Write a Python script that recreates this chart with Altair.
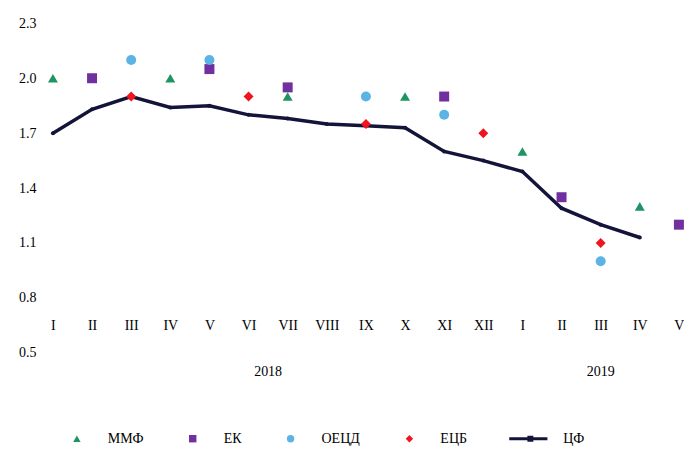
import altair as alt
import pandas as pd

months = ["I", "II", "III", "IV", "V", "VI", "VII", "VIII", "IX", "X", "XI", "XII",
          "I", "II", "III", "IV", "V"]
cf = [1.70, 1.83, 1.90, 1.84, 1.85, 1.80, 1.78, 1.75, 1.74, 1.73, 1.60, 1.55,
      1.49, 1.29, 1.20, 1.13]

mmf_idx = [0, 3, 6, 9, 12, 15]
mmf = [2.0, 2.0, 1.9, 1.9, 1.6, 1.3]
ek_idx = [1, 4, 6, 10, 13, 16]
ek = [2.0, 2.05, 1.95, 1.9, 1.35, 1.2]
oecd_idx = [2, 4, 8, 10, 14]
oecd = [2.1, 2.1, 1.9, 1.8, 1.0]
ecb_idx = [2, 5, 8, 11, 14]
ecb = [1.9, 1.9, 1.75, 1.7, 1.1]

years = ["2018", "2019"]
year_pos = [5.5, 14.0]

names = ["ММФ", "ЕК", "ОЕЦД", "ЕЦБ", "ЦФ"]
colors = ["#1f9463", "#7030a0", "#5bb4e3", "#f0141e", "#14143a"]
line_path = "M-6.2,-0.4H4.1V0.4H-6.2Z M-1.3,-0.8H0.3V0.8H-1.3Z"
shapes = ["triangle-up", "square", "circle", "diamond", line_path]

rows = []
for nm, idx, vals in [("ММФ", mmf_idx, mmf), ("ЕК", ek_idx, ek),
                      ("ОЕЦД", oecd_idx, oecd), ("ЕЦБ", ecb_idx, ecb)]:
    for i, v in zip(idx, vals):
        rows.append({"series": nm, "idx": i, "value": v})
pts = pd.DataFrame(rows)
line_df = pd.DataFrame({"idx": list(range(len(cf))), "value": cf, "series": "ЦФ"})
year_df = pd.DataFrame({"year": years, "idx": year_pos})

FONT = "Liberation Serif"
W, H = 640, 330

label_expr = "[" + ",".join("'%s'" % m for m in months) + "][round(datum.value)]"

xscale = alt.Scale(domain=[-0.204, 16.13], nice=False, zero=False)
yscale = alt.Scale(domain=[0.5, 2.3], nice=False, zero=False)

xaxis = alt.Axis(values=list(range(len(months))), labelExpr=label_expr, title=None,
                 domain=False, ticks=False, grid=False, offset=-56, labelPadding=22,
                 labelFont=FONT, labelFontSize=14, labelColor="#000000", labelFlush=False,
                 labelOverlap=False, labelBound=False)
yaxis = alt.Axis(values=[0.5, 0.8, 1.1, 1.4, 1.7, 2.0, 2.3], format=".1f", title=None,
                 domain=False, ticks=False, grid=False, labelPadding=9,
                 labelFont=FONT, labelFontSize=14, labelColor="#000000")

color = alt.Color("series:N", scale=alt.Scale(domain=names, range=colors),
                  legend=alt.Legend(title=None, orient="none", direction="horizontal",
                                    legendX=25, legendY=409, columns=5, columnPadding=42,
                                    symbolSize=55, labelOffset=24,
                                    labelFont=FONT, labelFontSize=14, labelColor="#000000",
                                    labelFontWeight="normal", symbolStrokeWidth=0))
shape = alt.Shape("series:N", scale=alt.Scale(domain=names, range=shapes))

points = alt.Chart(pts).mark_point(filled=True, size=100, opacity=1).encode(
    x=alt.X("idx:Q", scale=xscale, axis=xaxis),
    y=alt.Y("value:Q", scale=yscale, axis=yaxis),
    color=color,
    shape=shape,
)

line = alt.Chart(line_df).mark_line(strokeWidth=3.5,
                                    point=alt.OverlayMarkDef(size=16, filled=True)).encode(
    x=alt.X("idx:Q", scale=xscale, axis=xaxis),
    y=alt.Y("value:Q", scale=yscale, axis=yaxis),
    color=color,
)

year_text = alt.Chart(year_df).mark_text(font=FONT, fontSize=14, color="#000000",
                                          baseline="middle").encode(
    x=alt.X("idx:Q", scale=xscale, axis=xaxis),
    y=alt.value(H + 19),
    text="year:N",
)

chart = alt.layer(line, points, year_text).properties(
    width=W, height=H,
    autosize=alt.AutoSizeParams(type="none"),
    padding={"left": 37, "top": 15, "right": 0, "bottom": 107},
).configure(font=FONT).configure_view(stroke=None).configure_legend(
    labelFont=FONT, labelFontSize=14, labelColor="#000000", labelFontWeight="normal"
).configure_axis(labelOverlap=False)

chart.save("out.html", embed_options={"renderer": "svg", "actions": False})
